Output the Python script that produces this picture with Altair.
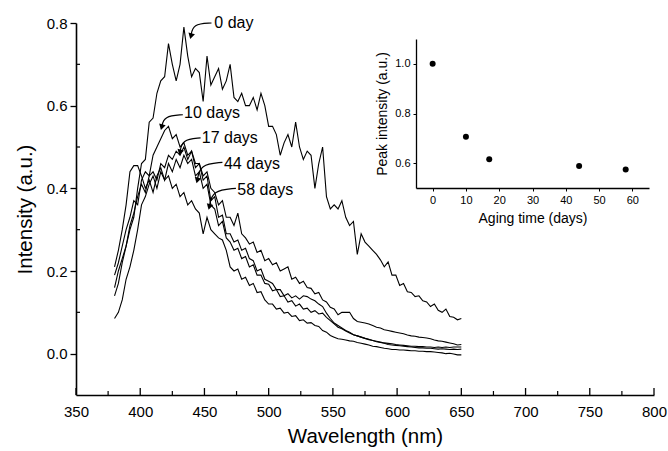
import altair as alt
import pandas as pd

FONT = "Liberation Sans"

# ---------------- main spectra ----------------
wavelength = list(range(380, 651, 3))  # instrument sampling grid (nm)

day0 = [0.16, 0.20, 0.23, 0.26, 0.30, 0.33, 0.40, 0.46, 0.47, 0.56,
        0.57, 0.63, 0.66, 0.67, 0.75, 0.70, 0.66, 0.70, 0.79, 0.72,
        0.67, 0.69, 0.68, 0.61, 0.72, 0.65, 0.67, 0.69, 0.64, 0.66,
        0.70, 0.62, 0.61, 0.63, 0.60, 0.60, 0.62, 0.59, 0.63, 0.60,
        0.55, 0.55, 0.53, 0.48, 0.51, 0.53, 0.50, 0.56, 0.50, 0.47,
        0.49, 0.48, 0.40, 0.46, 0.50, 0.38, 0.35, 0.36, 0.35, 0.37,
        0.33, 0.31, 0.32, 0.24, 0.29, 0.27, 0.26, 0.25, 0.24, 0.227,
        0.21, 0.222, 0.19, 0.19, 0.165, 0.17, 0.15, 0.148, 0.138, 0.14,
        0.128, 0.125, 0.114, 0.12, 0.105, 0.10, 0.108, 0.09, 0.088, 0.082,
        0.085]

day10 = [0.19, 0.22, 0.26, 0.30, 0.33, 0.37, 0.36, 0.42, 0.44, 0.43,
         0.48, 0.50, 0.52, 0.54, 0.55, 0.52, 0.53, 0.50, 0.51, 0.48,
         0.49, 0.46, 0.46, 0.43, 0.44, 0.40, 0.39, 0.36, 0.37, 0.33,
         0.33, 0.31, 0.34, 0.29, 0.28, 0.265, 0.27, 0.245, 0.25, 0.225,
         0.23, 0.215, 0.22, 0.20, 0.205, 0.21, 0.18, 0.185, 0.17, 0.175,
         0.16, 0.158, 0.145, 0.148, 0.13, 0.125, 0.112, 0.108, 0.094, 0.10,
         0.10, 0.10, 0.085, 0.078, 0.076, 0.074, 0.072, 0.068, 0.064, 0.062,
         0.058, 0.056, 0.054, 0.052, 0.05, 0.048, 0.045, 0.043, 0.042, 0.040,
         0.039, 0.038, 0.036, 0.033, 0.031, 0.030, 0.028, 0.026, 0.024, 0.021,
         0.022]

day17 = [0.14, 0.17, 0.22, 0.26, 0.31, 0.34, 0.38, 0.41, 0.39, 0.43,
         0.44, 0.42, 0.46, 0.45, 0.48, 0.47, 0.49, 0.48, 0.50, 0.47,
         0.49, 0.45, 0.46, 0.42, 0.43, 0.37, 0.38, 0.33, 0.335, 0.29,
         0.29, 0.27, 0.275, 0.25, 0.255, 0.23, 0.225, 0.20, 0.205, 0.18,
         0.175, 0.17, 0.155, 0.155, 0.14, 0.145, 0.135, 0.14, 0.132, 0.14,
         0.138, 0.132, 0.128, 0.12, 0.114, 0.098, 0.085, 0.074, 0.068, 0.062,
         0.056, 0.052, 0.046, 0.043, 0.040, 0.037, 0.035, 0.032, 0.029, 0.027,
         0.025, 0.022, 0.021, 0.02, 0.019, 0.018, 0.017, 0.016, 0.015, 0.014,
         0.014, 0.013, 0.013, 0.012, 0.011, 0.012, 0.011, 0.010, 0.011, 0.010,
         0.011]

day44 = [0.21, 0.25, 0.30, 0.36, 0.44, 0.455, 0.455, 0.43, 0.40, 0.42,
         0.39, 0.43, 0.45, 0.42, 0.46, 0.44, 0.47, 0.45, 0.48, 0.46,
         0.47, 0.43, 0.44, 0.40, 0.41, 0.36, 0.35, 0.31, 0.32, 0.28,
         0.27, 0.25, 0.255, 0.23, 0.235, 0.21, 0.215, 0.19, 0.19, 0.17,
         0.168, 0.152, 0.155, 0.138, 0.14, 0.125, 0.128, 0.115, 0.12, 0.108,
         0.11, 0.10, 0.104, 0.096, 0.098, 0.088, 0.08, 0.072, 0.064, 0.06,
         0.055, 0.05, 0.046, 0.043, 0.040, 0.037, 0.034, 0.032, 0.030, 0.028,
         0.026, 0.025, 0.024, 0.022, 0.021, 0.02, 0.019, 0.018, 0.018, 0.017,
         0.017, 0.016, 0.016, 0.015, 0.016, 0.015, 0.016, 0.015, 0.016, 0.016,
         0.016]

day58 = [0.085, 0.10, 0.13, 0.18, 0.21, 0.25, 0.30, 0.36, 0.38, 0.41,
         0.43, 0.40, 0.44, 0.42, 0.43, 0.40, 0.41, 0.38, 0.39, 0.36,
         0.37, 0.35, 0.34, 0.29, 0.33, 0.30, 0.29, 0.28, 0.275, 0.25,
         0.21, 0.20, 0.205, 0.18, 0.185, 0.165, 0.17, 0.148, 0.15, 0.13,
         0.12, 0.12, 0.108, 0.11, 0.098, 0.10, 0.09, 0.092, 0.08, 0.082,
         0.074, 0.075, 0.068, 0.066, 0.056, 0.052, 0.044, 0.04, 0.036, 0.035,
         0.033, 0.031, 0.030, 0.027, 0.025, 0.023, 0.021, 0.018, 0.017, 0.015,
         0.013, 0.012, 0.010, 0.010, 0.009, 0.009, 0.008, 0.007, 0.007, 0.006,
         0.006, 0.005, 0.005, 0.004, 0.003, 0.002, 0.0, 0.001, -0.001, -0.003,
         -0.003]

series_names = ["0 day", "10 days", "17 days", "44 days", "58 days"]
series_values = [day0, day10, day17, day44, day58]
for s in series_values:
    assert len(s) == len(wavelength)

# curve labels and their arrows
label_text = ["0 day", "10 days", "17 days", "44 days", "58 days"]
label_x = [457.7, 434.1, 447.9, 465.2, 475.6]
label_y = [0.789, 0.570, 0.509, 0.447, 0.385]

arrow_start_x = [455.5, 433.2, 447.0, 464.0, 474.5]
arrow_start_y = [0.800, 0.578, 0.522, 0.463, 0.400]
arrow_ctrl_x = [441.0, 418.5, 432.5, 446.5, 456.0]
arrow_ctrl_y = [0.798, 0.575, 0.518, 0.458, 0.395]
arrow_tip_x = [439.5, 416.7, 431.0, 444.4, 453.8]
arrow_tip_y = [0.768, 0.548, 0.487, 0.419, 0.355]

# axis ticks
x_major_ticks = [350, 400, 450, 500, 550, 600, 650, 700, 750, 800]
x_minor_ticks = [375, 425, 475, 525, 575, 625, 675, 725, 775]
y_major_ticks = [0.0, 0.2, 0.4, 0.6, 0.8]
y_minor_ticks = [0.1, 0.3, 0.5, 0.7]

# ---------------- inset ----------------
aging_days = [0, 10, 17, 44, 58]
peak_intensity = [1.0, 0.706, 0.616, 0.589, 0.574]
inset_x_ticks = [0, 10, 20, 30, 40, 50, 60]
inset_y_ticks = [0.6, 0.8, 1.0]

# ---------------- build tables ----------------
rows = []
for name, vals in zip(series_names, series_values):
    for w, v in zip(wavelength, vals):
        rows.append({"wl": w, "intensity": v, "series": name})
df = pd.DataFrame(rows)

arrow_rows = []
for i in range(len(label_text)):
    arrow_rows.append({"wl": arrow_start_x[i], "intensity": arrow_start_y[i], "arrow": i, "step": 0})
    arrow_rows.append({"wl": arrow_ctrl_x[i], "intensity": arrow_ctrl_y[i], "arrow": i, "step": 1})
    arrow_rows.append({"wl": arrow_tip_x[i], "intensity": arrow_tip_y[i], "arrow": i, "step": 2})
df_arrows = pd.DataFrame(arrow_rows)
df_heads = pd.DataFrame({"wl": arrow_tip_x, "intensity": arrow_tip_y})
df_labels = pd.DataFrame({"wl": label_x, "intensity": label_y, "label": label_text})
df_xmaj = pd.DataFrame({"wl": x_major_ticks})
df_xmin = pd.DataFrame({"wl": x_minor_ticks})
df_ymin = pd.DataFrame({"intensity": y_minor_ticks})
df_inset = pd.DataFrame({"days": aging_days, "peak": peak_intensity})

W, H = 578, 372


def xs():
    return alt.Scale(domain=[350, 800], nice=False, zero=False)


def ys():
    return alt.Scale(domain=[-0.1, 0.8], nice=False, zero=False)


x_axis = alt.Axis(orient="bottom", title="Wavelength (nm)", values=x_major_ticks, format="d",
                  ticks=False, tickSize=0, labelPadding=9, titlePadding=7,
                  labelFontSize=15, titleFontSize=20.5, domainWidth=1.6,
                  labelFlush=False)
y_axis = alt.Axis(orient="left", title="Intensity (a.u.)", values=y_major_ticks, format=".1f",
                  tickSize=6, tickWidth=1.3, labelPadding=3, titlePadding=11,
                  labelFontSize=15, titleFontSize=20.5, domainWidth=1.6)

curves = alt.Chart(df).mark_line(color="black", strokeWidth=1.1).encode(
    x=alt.X("wl:Q", scale=xs(), axis=x_axis),
    y=alt.Y("intensity:Q", scale=ys(), axis=y_axis),
    detail="series:N",
)

xmaj = alt.Chart(df_xmaj).mark_rule(color="black", strokeWidth=1.3).encode(
    x=alt.X("wl:Q", scale=xs(), axis=None),
    y=alt.value(H), y2=alt.value(H - 7),
)
xmin = alt.Chart(df_xmin).mark_rule(color="black", strokeWidth=1.2).encode(
    x=alt.X("wl:Q", scale=xs(), axis=None),
    y=alt.value(H), y2=alt.value(H - 4),
)
ymin = alt.Chart(df_ymin).mark_rule(color="black", strokeWidth=1.2).encode(
    y=alt.Y("intensity:Q", scale=ys(), axis=None),
    x=alt.value(0), x2=alt.value(4),
)

arrows = alt.Chart(df_arrows).mark_line(color="black", strokeWidth=1.2, interpolate="basis").encode(
    x=alt.X("wl:Q", scale=xs(), axis=None),
    y=alt.Y("intensity:Q", scale=ys(), axis=None),
    detail="arrow:N",
    order="step:Q",
)
heads = alt.Chart(df_heads).mark_point(shape="triangle-down", filled=True, color="black",
                                      size=45, angle=15, opacity=1).encode(
    x=alt.X("wl:Q", scale=xs(), axis=None),
    y=alt.Y("intensity:Q", scale=ys(), axis=None),
)
labels = alt.Chart(df_labels).mark_text(align="left", baseline="alphabetic", fontSize=16,
                                       font=FONT, color="black").encode(
    x=alt.X("wl:Q", scale=xs(), axis=None),
    y=alt.Y("intensity:Q", scale=ys(), axis=None),
    text="label:N",
)

inset = alt.Chart(df_inset).mark_circle(size=36, color="black", opacity=1).encode(
    x=alt.X("days:Q",
            scale=alt.Scale(domain=[-5, 65], range=[340, 573], nice=False, zero=False),
            axis=alt.Axis(orient="bottom", offset=-207, values=inset_x_ticks, format="d",
                          title="Aging time (days)", tickSize=3, labelFontSize=11,
                          titleFontSize=14, labelPadding=3, titlePadding=6,
                          domainWidth=1.3, labelFlush=False)),
    y=alt.Y("peak:Q",
            scale=alt.Scale(domain=[0.5, 1.1], range=[165, 16], nice=False, zero=False),
            axis=alt.Axis(orient="left", offset=-340, values=inset_y_ticks, format=".1f",
                          title="Peak intensity (a.u.)", tickSize=3, labelFontSize=11,
                          titleFontSize=14, labelPadding=3, titlePadding=5,
                          domainWidth=1.3)),
)

chart = alt.layer(curves, xmaj, xmin, ymin, arrows, heads, labels, inset).resolve_scale(
    x="independent", y="independent"
).properties(
    width=W, height=H,
    padding={"left": 76, "top": 23, "right": 14, "bottom": 56},
    autosize=alt.AutoSizeParams(type="none"),
).configure_axis(
    grid=False, domainColor="black", tickColor="black", labelColor="black",
    titleColor="black", labelFont=FONT, titleFont=FONT, titleFontWeight="normal",
).configure_view(stroke=None)

chart.save("out.html", embed_options={"renderer": "svg", "actions": False})
